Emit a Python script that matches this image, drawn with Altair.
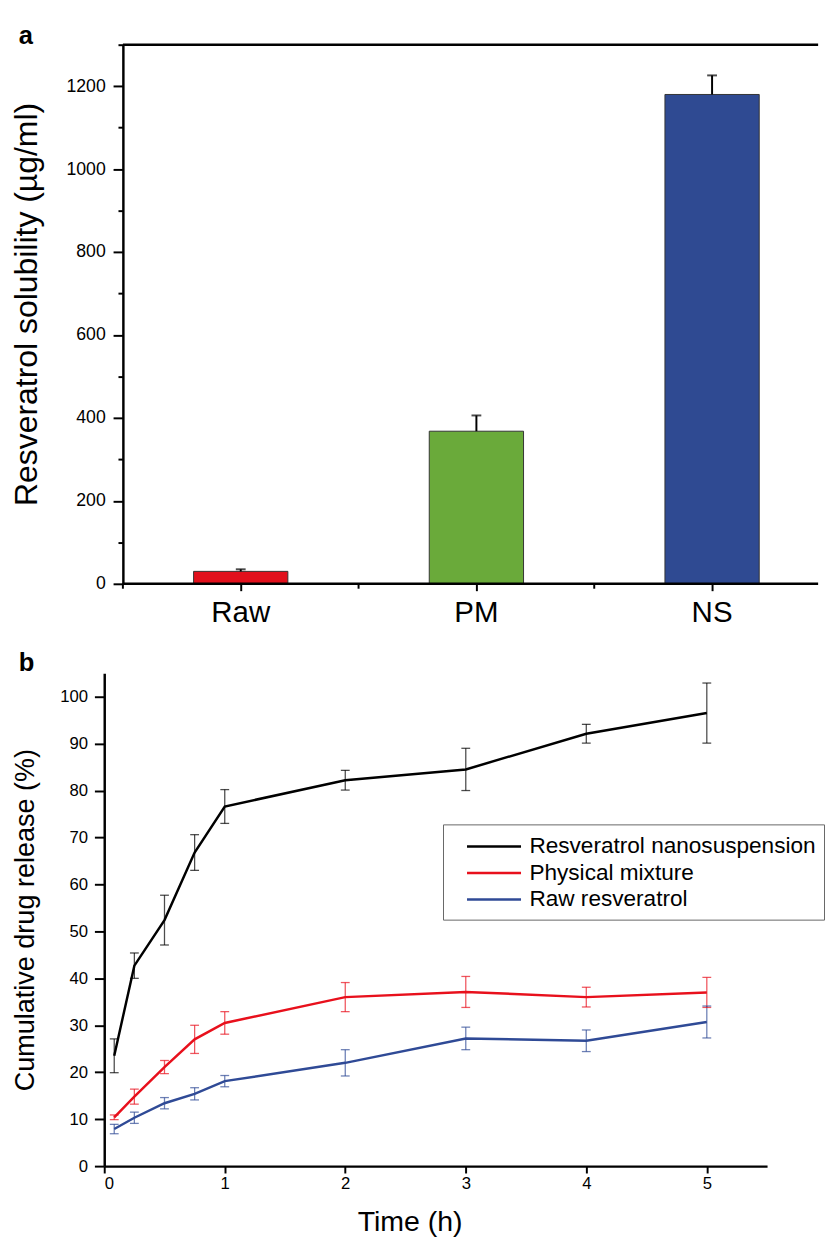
import altair as alt
import pandas as pd

FONT = "Liberation Sans"

# ---------- panel a data ----------
categories = ["Raw", "PM", "NS"]
solubility = [30, 368, 1180]
solubility_err = [5, 38, 46]
bar_colors = ["#E1101C", "#6AAA3A", "#2F4A92"]

# ---------- panel b data ----------
time_h = [0.083, 0.25, 0.5, 0.75, 1, 2, 3, 4, 5]
series_names = ["Resveratrol nanosuspension", "Physical mixture", "Raw resveratrol"]
ns_release = [23.5, 42.7, 52.4, 66.8, 76.6, 82.2, 84.5, 92.1, 96.5]
ns_err = [3.6, 2.7, 5.3, 3.8, 3.6, 2.1, 4.5, 2.0, 6.4]
pm_release = [10.4, 14.8, 21.1, 27.0, 30.5, 36.0, 37.1, 36.0, 37.0]
pm_err = [0.5, 1.6, 1.4, 3.0, 2.4, 3.1, 3.3, 2.1, 3.2]
raw_release = [7.9, 10.3, 13.4, 15.4, 18.1, 22.0, 27.2, 26.7, 30.7]
raw_err = [1.0, 1.2, 1.2, 1.3, 1.2, 2.8, 2.4, 2.3, 3.4]
line_colors = ["#000000", "#E8101C", "#2F4A96"]

yticks_a = list(range(0, 1301, 100))
yticks_b = list(range(0, 106, 5))
xticks_b = [i * 0.5 for i in range(12)]
panel_letters = ["a", "b"]

# ---------- build tables ----------
dfa = pd.DataFrame({"cat": categories, "val": solubility, "err": solubility_err})
dfa["hi"] = dfa["val"] + dfa["err"]

rows = []
for name, vals, errs in zip(series_names, [ns_release, pm_release, raw_release],
                            [ns_err, pm_err, raw_err]):
    for t, v, e in zip(time_h, vals, errs):
        rows.append({"series": name, "t": t, "v": v, "lo": v - e, "hi": v + e})
dfb = pd.DataFrame(rows)

axis_common = dict(domainColor="black", tickColor="black", labelColor="black",
                   titleColor="black", labelFont=FONT, titleFont=FONT,
                   titleFontWeight="normal", grid=False)


def letter(ch, dx, dy):
    return alt.Chart(pd.DataFrame({"label": [ch]})).mark_text(
        fontSize=26, fontWeight="bold", font=FONT, align="left",
        baseline="alphabetic", color="black").encode(
        text="label:N", x=alt.value(dx), y=alt.value(dy))


# ---------- panel a ----------
A_W, A_H = 727, 549
A_OFF = 19  # y axis of panel a sits 19 px right of panel b's
xa = alt.X("cat:N", sort=categories,
           scale=alt.Scale(domain=categories, paddingInner=0, paddingOuter=0,
                           range=[A_OFF, A_OFF + 720]),
           axis=alt.Axis(title=None, labelAngle=0, labelFontSize=30, labelPadding=7,
                         domain=False, tickSize=7, tickWidth=2, **axis_common))
ya = alt.Y("val:Q", scale=alt.Scale(domain=[0, 1300], nice=False),
           axis=alt.Axis(title="Resveratrol solubility (µg/ml)", titleFontSize=32.5,
                         titlePadding=22.5, titleY=264, values=yticks_a, format="d",
                         offset=-A_OFF,
                         labelExpr="datum.value % 200 === 0 ? datum.label : ''",
                         tickSize={"condition": {"test": "datum.value % 200 === 0", "value": 10},
                                   "value": 5},
                         labelFontSize=18, labelPadding=8, tickWidth=2, domainWidth=2.5,
                         **axis_common))

bars = alt.Chart(dfa).mark_bar(width=alt.RelativeBandSize(0.4), stroke="#333333",
                               strokeWidth=1).encode(
    x=xa, y=ya,
    color=alt.Color("cat:N", scale=alt.Scale(domain=categories, range=bar_colors), legend=None),
)
err_a = alt.Chart(dfa).mark_rule(color="black", strokeWidth=2).encode(
    x=alt.X("cat:N", sort=categories), y="val:Q", y2="hi:Q")
cap_a = alt.Chart(dfa).mark_tick(color="black", thickness=2, size=10, orient="horizontal").encode(
    x=alt.X("cat:N", sort=categories), y="hi:Q")
minor_a = alt.Chart(dfa).mark_rule(color="black", strokeWidth=2).encode(
    x=alt.X("cat:N", sort=categories, bandPosition=0),
    y=alt.value(A_H), y2=alt.value(A_H + 5))
frame_df = pd.DataFrame({"k": [0]})
top_frame = alt.Chart(frame_df).mark_rule(color="black", strokeWidth=2.5).encode(
    x=alt.value(A_OFF), x2=alt.value(A_W), y=alt.value(0))
bottom_axis = alt.Chart(frame_df).mark_rule(color="black", strokeWidth=2.5).encode(
    x=alt.value(A_OFF), x2=alt.value(A_W), y=alt.value(A_H))

panel_a = alt.layer(bars, err_a, cap_a, minor_a, top_frame, bottom_axis,
                    letter(panel_letters[0], A_OFF - 106, -1)).properties(
    width=A_W, height=A_H,
    view=alt.ViewBackground(stroke=None),
)

# ---------- panel b ----------
B_W, B_H = 675, 502
xb = alt.X("t:Q", scale=alt.Scale(domain=[0, 5.5], nice=False),
           axis=alt.Axis(title="Time (h)", titleFontSize=29, titlePadding=17,
                         titleX=311, titleAlign="center", format="d",
                         values=xticks_b, labelExpr="datum.value % 1 === 0 ? datum.label : ''",
                         tickSize={"condition": {"test": "datum.value % 1 === 0", "value": 7},
                                   "value": 4},
                         labelFontSize=17, labelPadding=3, tickWidth=2, domainWidth=2.5,
                         **axis_common))
yb = alt.Y("v:Q", scale=alt.Scale(domain=[0, 105], nice=False),
           axis=alt.Axis(title="Cumulative drug release (%)", titleFontSize=27.5,
                         titlePadding=21, values=yticks_b,
                         labelExpr="datum.value % 10 === 0 ? datum.label : ''",
                         tickSize={"condition": {"test": "datum.value % 10 === 0", "value": 10},
                                   "value": 5},
                         labelFontSize=17, labelPadding=7, tickWidth=2, domainWidth=2.5,
                         **axis_common))
col_b = alt.Color("series:N", sort=series_names,
                  scale=alt.Scale(domain=series_names, range=line_colors),
                  legend=alt.Legend(title=None, orient="none", legendX=345, legendY=154,
                                    symbolType="M0.15,0H4.38", symbolSize=676,
                                    symbolStrokeWidth=2.5, labelFontSize=23, labelFont=FONT,
                                    labelColor="black", labelOffset=51, labelLimit=600,
                                    rowPadding=0, strokeColor="#666666", fillColor="white",
                                    padding=8))

lines = alt.Chart(dfb).mark_line(strokeWidth=2.5).encode(x=xb, y=yb, color=col_b)
err_b = alt.Chart(dfb).mark_rule(strokeWidth=1.3, opacity=0.7).encode(
    x="t:Q", y="lo:Q", y2="hi:Q", color=alt.Color("series:N", legend=None))
cap_lo = alt.Chart(dfb).mark_tick(thickness=1.3, size=9, orient="horizontal", opacity=0.7).encode(
    x="t:Q", y="lo:Q", color=alt.Color("series:N", legend=None))
cap_hi = alt.Chart(dfb).mark_tick(thickness=1.3, size=9, orient="horizontal", opacity=0.7).encode(
    x="t:Q", y="hi:Q", color=alt.Color("series:N", legend=None))

panel_b = alt.layer(lines, err_b, cap_lo, cap_hi,
                    letter(panel_letters[1], -87, -2)).properties(
    width=B_W, height=B_H,
    view=alt.ViewBackground(stroke=None),
)

chart = alt.concat(panel_a, panel_b, columns=1, align="none", spacing=24).resolve_scale(
    color="independent").properties(
    padding={"left": 3, "top": 4, "right": 0, "bottom": 0}).configure(
    font=FONT, background="white")

chart.save("out.html", embed_options={"renderer": "svg", "actions": False})
